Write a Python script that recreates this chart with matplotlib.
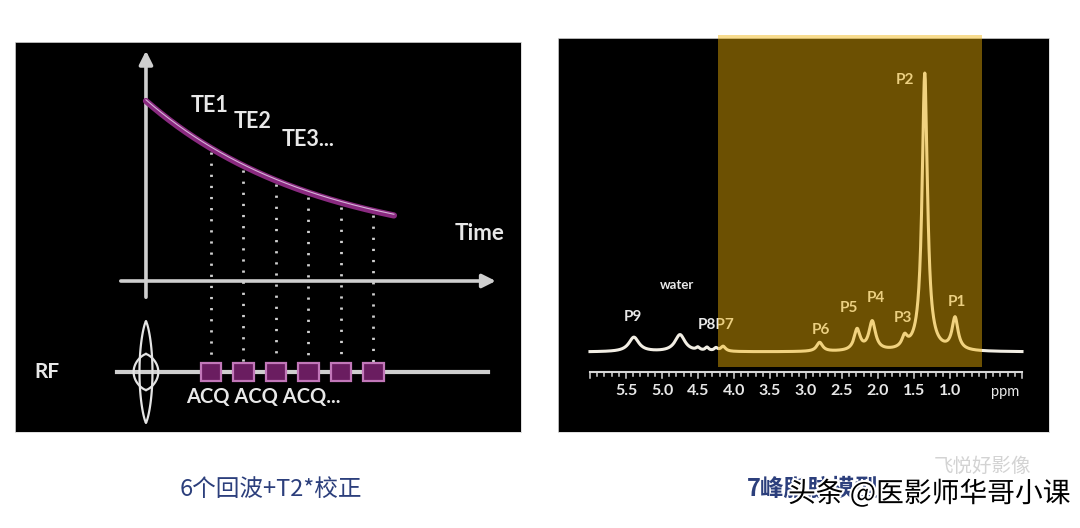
import numpy as np
import matplotlib
matplotlib.use("Agg")
import matplotlib.pyplot as plt
from matplotlib.patches import Rectangle
import matplotlib.patheffects as pe

# ---- left panel: multi-echo T2* decay (times in ms, signal in arbitrary units)
echo_times = [2.0, 3.0, 4.0, 5.0, 6.0, 7.0]
decay_amp = 150.0
decay_offset = 30.0
decay_t2star = 5.3
decay_end = 7.63
te_labels = ["TE1", "TE2", "TE3..."]
te_label_pos = [(1.95, 176), (3.27, 160), (4.98, 141)]

# ---- right panel: 9-peak spectrum (ppm, height, half width)
peak_ppm = [0.93, 1.35, 1.63, 2.08, 2.29, 2.81, 4.15, 4.25, 4.375, 4.50, 4.75, 5.39]
peak_height = [32, 278, 11, 29, 21, 9, 5, 3, 3.5, 3, 17, 14.5]
peak_width = [0.05, 0.045, 0.045, 0.055, 0.05, 0.05, 0.04, 0.03, 0.03, 0.03, 0.085, 0.085]
peak_names = ["P1", "P2", "P3", "P4", "P5", "P6", "P8P7", "P9", "water"]
name_pos = [(0.90, 50), (1.62, 272), (1.65, 34), (2.03, 54), (2.40, 44),
            (2.79, 22), (4.25, 27), (5.40, 35), (4.79, 67)]
ppm_ticks = [5.5, 5.0, 4.5, 4.0, 3.5, 3.0, 2.5, 2.0, 1.5, 1.0]

W, H = 1080, 528
fig = plt.figure(figsize=(W / 100, H / 100), dpi=100, facecolor="white")


def px_rect(x0, y0, x1, y1):
    return [x0 / W, 1 - y1 / H, (x1 - x0) / W, (y1 - y0) / H]


txt = "#e8e8e8"
line_c = "#cfcfcf"
lat = ["Lato", "DejaVu Sans"]

# ================= left panel =================
ax1 = fig.add_axes(px_rect(15, 42, 521, 432))
ax1.set_facecolor("black")
ax1.set_xlim(-4.03, 11.54)
ax1.set_ylim(-151, 239)
ax1.set_xticks([])
ax1.set_yticks([])
for s in ax1.spines.values():
    s.set_color("#d8d8d8")
    s.set_linewidth(0.6)

# axes arrows
ax1.annotate("", xy=(0, 233), xytext=(0, -19),
             arrowprops=dict(arrowstyle="-|>", color=line_c, lw=2.6, mutation_scale=20))
ax1.annotate("", xy=(10.85, 0), xytext=(-0.86, 0),
             arrowprops=dict(arrowstyle="-|>", color=line_c, lw=2.6, mutation_scale=20))

# decay curve
t = np.linspace(0, decay_end, 300)
sig = decay_amp * np.exp(-t / decay_t2star) + decay_offset
ax1.plot(t, sig, color="#8a2a80", lw=4.5, solid_capstyle="round", zorder=4)
ax1.plot(t, sig + 1.2, color="#e8d8ee", lw=0.8, alpha=0.8, zorder=5)

# RF line, echo dotted lines and ACQ boxes
rf_y = -91
ax1.plot([-0.89, 10.52], [rf_y, rf_y], color=line_c, lw=3, zorder=2)
for te in echo_times:
    s_te = decay_amp * np.exp(-te / decay_t2star) + decay_offset
    ax1.plot([te, te], [s_te - 4, rf_y + 9], color="#d0d0d0", lw=2,
             linestyle=(0, (0.8, 3.2)), zorder=3)
    ax1.add_patch(Rectangle((te - 0.31, rf_y - 9), 0.62, 18, facecolor="#6a1d60",
                            edgecolor="#c277b9", lw=1.6, zorder=4))

# RF pulse (sinc like lobes)
u = np.linspace(-1, 1, 100)
for half_h, half_w in [(50.5, 0.2), (18, 0.38)]:
    xs = half_w * (1 - u ** 2) ** 0.75
    ax1.plot(xs, rf_y + half_h * u, color="#e4e4e4", lw=1.6, zorder=3)
    ax1.plot(-xs, rf_y + half_h * u, color="#e4e4e4", lw=1.6, zorder=3)

for lab, (x, y) in zip(te_labels, te_label_pos):
    ax1.text(x, y, lab, color=txt, fontsize=15.5, family=lat, fontweight="bold",
             ha="center", va="center")
ax1.text(10.25, 47, "Time", color=txt, fontsize=16, family=lat, fontweight="bold",
         ha="center", va="center")
ax1.text(-3.05, rf_y, "RF", color=txt, fontsize=15, family=lat, fontweight="bold",
         ha="center", va="center")
ax1.text(3.6, -116, "ACQ ACQ ACQ...", color=txt, fontsize=14.5, family=lat,
         fontweight="bold", ha="center", va="center")

# ================= right panel =================
ax2 = fig.add_axes(px_rect(558, 38, 1049, 432))
ax2.set_facecolor("black")
ax2.set_xlim(6.444, -0.375)
ax2.set_ylim(-80, 314)
ax2.set_xticks([])
ax2.set_yticks([])
for s in ax2.spines.values():
    s.set_color("#d8d8d8")
    s.set_linewidth(0.6)

ppm = np.linspace(0, 6, 2400)
spec = np.zeros_like(ppm)
for c, h, w in zip(peak_ppm, peak_height, peak_width):
    spec += h * w ** 2 / ((ppm - c) ** 2 + w ** 2)
ax2.plot(ppm, spec, color="#f2eee4", lw=2.2, zorder=3)

# ruler
ax2.plot([0, 6], [-20, -20], color="#d8d8d8", lw=1.5, zorder=3)
minor = np.round(np.arange(0, 6.001, 0.1), 2)
for m in minor:
    major = abs(m * 2 - round(m * 2)) < 1e-6
    ax2.plot([m, m], [-20, -26 if major else -23.5], color="#d8d8d8", lw=1.1, zorder=3)
for tk in ppm_ticks:
    ax2.text(tk, -39, f"{tk:.1f}", color=txt, fontsize=11.5, family=lat,
             fontweight="bold", ha="center", va="center")
ax2.text(0.236, -40, "ppm", color=txt, fontsize=10.5, family=lat, ha="center", va="center")

for lab, (x, y) in zip(peak_names, name_pos):
    ax2.text(x, y, lab, color=txt, fontsize=11 if lab != "water" else 9.5,
             family=lat, fontweight="bold", ha="center", va="center", zorder=4)

# gold highlight over the fat region
ax2.add_patch(Rectangle((0.556, -15), 4.22 - 0.556, 332, facecolor="#f0b205",
                        alpha=0.45, edgecolor="none", clip_on=False, zorder=10))

# ================= captions =================
cjk = ["Noto Sans CJK SC", "DejaVu Sans"]
navy = "#2c3f7c"
fig.text(271 / W, 1 - 489 / H, "6个回波+T2*校正", color=navy, fontsize=17,
         family=cjk, ha="center", va="center")
fig.text(747 / W, 1 - 489 / H, "7峰脂肪模型", color=navy, fontsize=17,
         family=cjk, ha="left", va="center", fontweight="bold")
fig.text(982 / W, 1 - 466 / H, "飞悦好影像", color="#c8c8c8", fontsize=14,
         family=cjk, ha="center", va="center", alpha=0.8)
fig.text(788 / W, 1 - 494 / H, "头条 @医影师华哥小课", color="black", fontsize=20,
         family=cjk, ha="left", va="center",
         path_effects=[pe.withStroke(linewidth=3, foreground="white")])

fig.savefig("out.png", dpi=100, facecolor="white")
